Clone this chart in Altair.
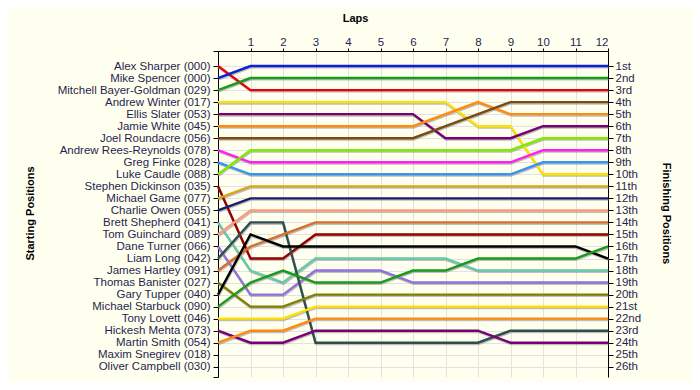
import json
import altair as alt
import pandas as pd

laps = list(range(13))

drivers = [
    "Alex Sharper (000)", "Mike Spencer (000)", "Mitchell Bayer-Goldman (029)",
    "Andrew Winter (017)", "Ellis Slater (053)", "Jamie White (045)",
    "Joel Roundacre (056)", "Andrew Rees-Reynolds (078)", "Greg Finke (028)",
    "Luke Caudle (088)", "Stephen Dickinson (035)", "Michael Game (077)",
    "Charlie Owen (055)", "Brett Shepherd (041)", "Tom Guinchard (089)",
    "Dane Turner (066)", "Liam Long (042)", "James Hartley (091)",
    "Thomas Banister (027)", "Gary Tupper (040)", "Michael Starbuck (090)",
    "Tony Lovett (046)", "Hickesh Mehta (073)", "Martin Smith (054)",
    "Maxim Snegirev (018)", "Oliver Campbell (030)",
]

finish_labels = [
    "1st", "2nd", "3rd", "4th", "5th", "6th", "7th", "8th", "9th", "10th",
    "11th", "12th", "13th", "14th", "15th", "16th", "17th", "18th", "19th",
    "20th", "21st", "22nd", "23rd", "24th", "25th", "26th",
]

# position of each classified driver at laps 0..12
positions = [
    [1, 3, 3, 3, 3, 3, 3, 3, 3, 3, 3, 3, 3],
    [2, 1, 1, 1, 1, 1, 1, 1, 1, 1, 1, 1, 1],
    [3, 2, 2, 2, 2, 2, 2, 2, 2, 2, 2, 2, 2],
    [4, 4, 4, 4, 4, 4, 4, 4, 6, 6, 10, 10, 10],
    [5, 5, 5, 5, 5, 5, 5, 7, 7, 7, 6, 6, 6],
    [6, 6, 6, 6, 6, 6, 6, 5, 4, 5, 5, 5, 5],
    [7, 7, 7, 7, 7, 7, 7, 6, 5, 4, 4, 4, 4],
    [8, 9, 9, 9, 9, 9, 9, 9, 9, 9, 8, 8, 8],
    [9, 10, 10, 10, 10, 10, 10, 10, 10, 10, 9, 9, 9],
    [10, 8, 8, 8, 8, 8, 8, 8, 8, 8, 7, 7, 7],
    [11, 17, 17, 15, 15, 15, 15, 15, 15, 15, 15, 15, 15],
    [12, 11, 11, 11, 11, 11, 11, 11, 11, 11, 11, 11, 11],
    [13, 12, 12, 12, 12, 12, 12, 12, 12, 12, 12, 12, 12],
    [14, 18, 19, 17, 17, 17, 17, 17, 18, 18, 18, 18, 18],
    [15, 13, 13, 13, 13, 13, 13, 13, 13, 13, 13, 13, 13],
    [16, 20, 20, 18, 18, 18, 19, 19, 19, 19, 19, 19, 19],
    [17, 14, 14, 24, 24, 24, 24, 24, 24, 23, 23, 23, 23],
    [18, 16, 15, 14, 14, 14, 14, 14, 14, 14, 14, 14, 14],
    [19, 21, 21, 20, 20, 20, 20, 20, 20, 20, 20, 20, 20],
    [20, 15, 16, 16, 16, 16, 16, 16, 16, 16, 16, 16, 17],
    [21, 19, 18, 19, 19, 19, 18, 18, 17, 17, 17, 17, 16],
    [22, 22, 22, 21, 21, 21, 21, 21, 21, 21, 21, 21, 21],
    [23, 24, 24, 23, 23, 23, 23, 23, 23, 24, 24, 24, 24],
    [24, 23, 23, 22, 22, 22, 22, 22, 22, 22, 22, 22, 22],
]

colors = [
    "#e8000a", "#0a1fd6", "#1a9a1a", "#ffe000", "#760076", "#ff8a10",
    "#7b4a12", "#ff1ff0", "#3896ee", "#80ea00", "#960000", "#d9a520",
    "#1c1c6c", "#68c8a8", "#ff9a78", "#9370db", "#2f4f4f", "#d8702a",
    "#808000", "#000000", "#1a9a1a", "#ffe000", "#760076", "#ff8a10",
]

rows = []
for name, seq in zip(drivers, positions):
    for lap, p in zip(laps, seq):
        rows.append({"driver": name, "lap": lap, "pos": p})
df = pd.DataFrame(rows)

FONT = "Liberation Sans"
LABEL = "#1f1f4f"
GRID = "#e2e2e2"
W, H = 390, 326
ydom = [-0.25, 26.85]

xscale = alt.Scale(domain=[0, 12], nice=False, zero=False)
yscale = alt.Scale(domain=ydom, reverse=True, nice=False, zero=False)

x_axis = alt.Axis(
    orient="top", values=list(range(1, 13)), title="Laps", grid=True,
    gridColor=GRID, domainColor="black", tickColor="black", tickSize=3,
    labelPadding=1, labelFont=FONT, labelFontSize=11.5, labelColor=LABEL,
    labelAngle=0, labelOverlap=False, titleFont=FONT, titleFontSize=11,
    titleFontWeight="bold", titleColor="black", titleX=137, titleY=-33,
    titleAlign="center", titleBaseline="middle",
)

left_vals = [ydom[0]] + list(range(1, 27)) + [ydom[1]]
left_expr = (
    "(datum.value < 1 || datum.value > 26) ? '' : "
    + json.dumps(drivers) + "[round(datum.value) - 1]"
)
left_axis = alt.Axis(
    orient="left", values=left_vals, labelExpr=left_expr, grid=True,
    gridColor={"condition": {"test": "datum.value < 1 || datum.value > 26",
                             "value": "transparent"}, "value": GRID},
    domainColor="black", tickColor="black", tickSize=5, labelPadding=3,
    labelFont=FONT, labelFontSize=11.5, labelColor=LABEL, labelOverlap=False,
    title="Starting Positions", titleFont=FONT, titleFontSize=11,
    titleFontWeight="bold", titleColor="black", titleAngle=270,
    titleX=-188, titleY=162, titleAlign="center", titleBaseline="middle",
)

right_expr = json.dumps(finish_labels) + "[round(datum.value) - 1]"
right_axis = alt.Axis(
    orient="right", values=list(range(1, 27)), labelExpr=right_expr,
    grid=False, domainColor="black", tickColor="black", tickSize=5,
    labelPadding=2, labelFont=FONT, labelFontSize=11.5, labelColor=LABEL,
    labelOverlap=False,
    title="Finishing Positions", titleFont=FONT, titleFontSize=11,
    titleFontWeight="bold", titleColor="black", titleAngle=90,
    titleX=57, titleY=162, titleAlign="center", titleBaseline="middle",
)

shadow = alt.Chart(df).mark_line(
    stroke="#8a8a8a", strokeWidth=2.4, opacity=0.55, yOffset=1.3, xOffset=0.6
).encode(
    x=alt.X("lap:Q", scale=xscale, axis=x_axis),
    y=alt.Y("pos:Q", scale=yscale, axis=left_axis),
    detail="driver:N",
    order="lap:Q",
)

lines = alt.Chart(df).mark_line(strokeWidth=2.4).encode(
    x=alt.X("lap:Q", scale=xscale, axis=x_axis),
    y=alt.Y("pos:Q", scale=yscale, axis=right_axis),
    color=alt.Color("driver:N", scale=alt.Scale(domain=drivers[:24], range=colors),
                    legend=None),
    order="lap:Q",
)

chart = alt.layer(shadow, lines).resolve_scale(y="independent").properties(
    width=W, height=H, background="#fffff0",
    padding={"left": 210, "top": 43, "right": 84, "bottom": 5},
    autosize=alt.AutoSizeParams(type="none"),
).configure_view(strokeWidth=0)

chart.save("out.html", embed_options={"renderer": "svg", "actions": False})
